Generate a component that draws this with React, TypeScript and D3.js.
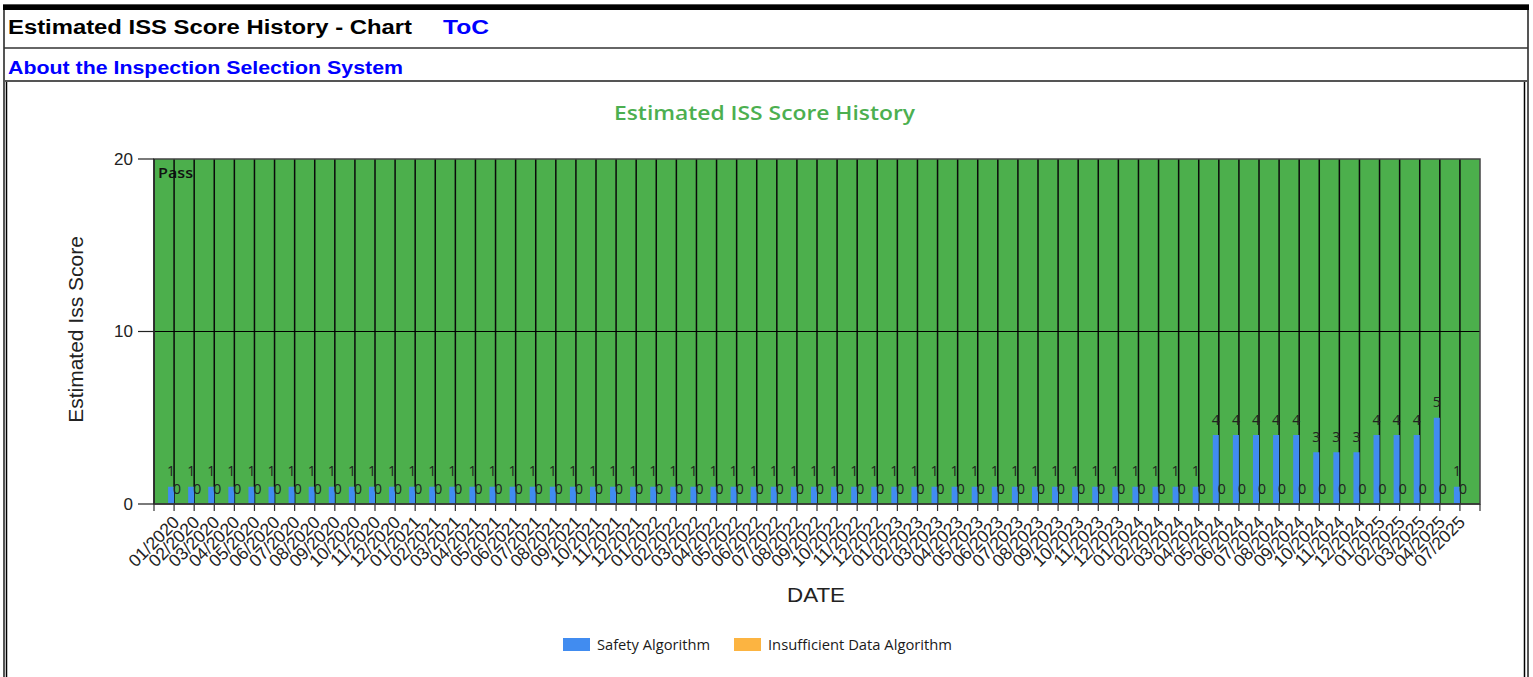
import React, { useEffect, useRef } from 'react';
import * as d3 from 'd3';

const W = 1533;
const H = 677;

// category labels (x axis)
const dates = [
  '01/2020', '02/2020', '03/2020', '04/2020', '05/2020', '06/2020', '07/2020', '08/2020', '09/2020', '10/2020', '11/2020', '12/2020',
  '01/2021', '02/2021', '03/2021', '04/2021', '05/2021', '06/2021', '07/2021', '08/2021', '09/2021', '10/2021', '11/2021', '12/2021',
  '01/2022', '02/2022', '03/2022', '04/2022', '05/2022', '06/2022', '07/2022', '08/2022', '09/2022', '10/2022', '11/2022', '12/2022',
  '01/2023', '02/2023', '03/2023', '04/2023', '05/2023', '06/2023', '07/2023', '08/2023', '09/2023', '10/2023', '11/2023', '12/2023',
  '01/2024', '02/2024', '03/2024', '04/2024', '05/2024', '06/2024', '07/2024', '08/2024', '09/2024', '10/2024', '11/2024', '12/2024',
  '01/2025', '02/2025', '03/2025', '04/2025', '07/2025',
];

// Safety Algorithm scores
const safetyScores = [
  1, 1, 1, 1, 1, 1, 1, 1, 1, 1, 1, 1,
  1, 1, 1, 1, 1, 1, 1, 1, 1, 1, 1, 1,
  1, 1, 1, 1, 1, 1, 1, 1, 1, 1, 1, 1,
  1, 1, 1, 1, 1, 1, 1, 1, 1, 1, 1, 1,
  1, 1, 1, 1, 4, 4, 4, 4, 4, 3, 3, 3,
  4, 4, 4, 5, 1,
];

// Insufficient Data Algorithm scores
const insufficientScores = [
  0, 0, 0, 0, 0, 0, 0, 0, 0, 0, 0, 0,
  0, 0, 0, 0, 0, 0, 0, 0, 0, 0, 0, 0,
  0, 0, 0, 0, 0, 0, 0, 0, 0, 0, 0, 0,
  0, 0, 0, 0, 0, 0, 0, 0, 0, 0, 0, 0,
  0, 0, 0, 0, 0, 0, 0, 0, 0, 0, 0, 0,
  0, 0, 0, 0, 0,
];

const yTicks = [0, 10, 20];
const seriesNames = ['Safety Algorithm', 'Insufficient Data Algorithm'];
const seriesColors = ['#418CF0', '#FCB441'];

const ARIAL = '"Liberation Sans", Arial, sans-serif';
const CHART_FONT = '"Open Sans", "DejaVu Sans", sans-serif';

function ScoreChart() {
  const svgRef = useRef(null);

  useEffect(() => {
    const svg = d3.select(svgRef.current);
    svg.selectAll('*').remove();

    // ---- page frame (table look) ----
    const frame = svg.append('g');
    frame.append('rect').attr('x', 4).attr('y', 5).attr('width', 1524).attr('height', H)
      .attr('fill', 'white').attr('stroke', '#555').attr('stroke-width', 2);
    frame.append('rect').attr('x', 3).attr('y', 5).attr('width', 1526).attr('height', 5).attr('fill', '#000');
    frame.append('line').attr('x1', 4).attr('x2', 1528).attr('y1', 48).attr('y2', 48)
      .attr('stroke', '#333').attr('stroke-width', 1.5);
    frame.append('line').attr('x1', 4).attr('x2', 1528).attr('y1', 81).attr('y2', 81)
      .attr('stroke', '#555').attr('stroke-width', 2);
    frame.append('line').attr('x1', 6.5).attr('x2', 6.5).attr('y1', 82).attr('y2', H)
      .attr('stroke', '#000').attr('stroke-width', 1.5);
    frame.append('line').attr('x1', 1524.5).attr('x2', 1524.5).attr('y1', 82).attr('y2', H)
      .attr('stroke', '#000').attr('stroke-width', 1.5);

    frame.append('text').attr('x', 8).attr('y', 34)
      .attr('textLength', 404).attr('lengthAdjust', 'spacingAndGlyphs')
      .style('font-family', ARIAL).style('font-weight', 'bold').style('font-size', '20px')
      .attr('fill', '#000').text('Estimated ISS Score History - Chart');
    frame.append('text').attr('x', 443).attr('y', 34)
      .attr('textLength', 46).attr('lengthAdjust', 'spacingAndGlyphs')
      .style('font-family', ARIAL).style('font-weight', 'bold').style('font-size', '20px')
      .attr('fill', '#0000ff').text('ToC');
    frame.append('text').attr('x', 8).attr('y', 74)
      .attr('textLength', 395).attr('lengthAdjust', 'spacingAndGlyphs')
      .style('font-family', ARIAL).style('font-weight', 'bold').style('font-size', '18px')
      .attr('fill', '#0000ff').text('About the Inspection Selection System');

    // ---- chart ----
    const plot = { left: 154, right: 1480, top: 159, bottom: 504 };

    const x = d3.scalePoint()
      .domain(dates)
      .range([plot.left, plot.right])
      .padding(1);
    const y = d3.scaleLinear().domain([0, 20]).range([plot.bottom, plot.top]);
    const step = x.step();
    const barW = step * 0.3;

    const g = svg.append('g');

    // title
    g.append('text').attr('x', 614).attr('y', 120)
      .attr('textLength', 301).attr('lengthAdjust', 'spacingAndGlyphs')
      .style('font-family', CHART_FONT).style('font-weight', 600).style('font-size', '20px')
      .attr('fill', '#4CAF50').text('Estimated ISS Score History');

    // "Pass" band
    g.append('rect').attr('x', plot.left).attr('y', y(20))
      .attr('width', plot.right - plot.left).attr('height', y(0) - y(20))
      .attr('fill', '#4CAF4C');
    g.append('text').attr('x', 158).attr('y', 178)
      .attr('textLength', 35).attr('lengthAdjust', 'spacingAndGlyphs')
      .style('font-family', CHART_FONT).style('font-weight', 600).style('font-size', '15px')
      .attr('fill', '#111').text('Pass');

    // gridlines
    g.selectAll('.vgrid').data(dates).enter().append('line')
      .attr('x1', d => x(d)).attr('x2', d => x(d))
      .attr('y1', plot.top).attr('y2', plot.bottom)
      .attr('stroke', '#0a0a0a').attr('stroke-width', 1.5);
    g.selectAll('.hgrid').data(yTicks.filter(t => t > 0 && t < 20)).enter().append('line')
      .attr('x1', plot.left).attr('x2', plot.right)
      .attr('y1', d => y(d)).attr('y2', d => y(d))
      .attr('stroke', '#000').attr('stroke-width', 1);

    // bars
    const series = [safetyScores, insufficientScores];
    series.forEach((vals, s) => {
      const off = s === 0 ? -barW : 0;
      g.selectAll('.bar' + s).data(dates).enter().append('rect')
        .attr('x', d => x(d) + off)
        .attr('y', (d, i) => y(vals[i]))
        .attr('width', barW)
        .attr('height', (d, i) => y(0) - y(vals[i]))
        .attr('fill', seriesColors[s]);
      g.selectAll('.lbl' + s).data(dates).enter().append('text')
        .attr('x', d => x(d) + off + barW / 2)
        .attr('y', (d, i) => y(vals[i]) - 10.5)
        .attr('text-anchor', 'middle')
        .style('font-family', CHART_FONT).style('font-size', '14px')
        .attr('fill', '#222')
        .text((d, i) => vals[i]);
    });

    // plot border
    g.append('rect').attr('x', plot.left).attr('y', plot.top)
      .attr('width', plot.right - plot.left).attr('height', plot.bottom - plot.top)
      .attr('fill', 'none').attr('stroke', '#444').attr('stroke-width', 1.5);

    // y axis
    g.append('line').attr('x1', plot.left).attr('x2', plot.left)
      .attr('y1', plot.top).attr('y2', plot.bottom).attr('stroke', '#222').attr('stroke-width', 1.5);
    g.selectAll('.ytick').data(yTicks).enter().append('line')
      .attr('x1', 138).attr('x2', plot.left)
      .attr('y1', d => y(d)).attr('y2', d => y(d))
      .attr('stroke', '#222').attr('stroke-width', 1.2);
    g.selectAll('.ylbl').data(yTicks).enter().append('text')
      .attr('x', 133).attr('y', d => y(d)).attr('dy', '0.35em')
      .attr('text-anchor', 'end')
      .style('font-family', ARIAL).style('font-size', '17px')
      .attr('fill', '#222').text(d => d);
    g.append('text')
      .attr('transform', `translate(83, ${(plot.top + plot.bottom) / 2 - 2}) rotate(-90)`)
      .attr('text-anchor', 'middle')
      .style('font-family', ARIAL).style('font-size', '21px')
      .attr('fill', '#222').text('Estimated Iss Score');

    // x axis
    g.append('line').attr('x1', plot.left).attr('x2', plot.right)
      .attr('y1', plot.bottom).attr('y2', plot.bottom).attr('stroke', '#333').attr('stroke-width', 1.5);
    const tickPos = d3.range(dates.length + 2).map(k => plot.left + k * step);
    g.selectAll('.xtick').data(tickPos).enter().append('line')
      .attr('x1', d => d).attr('x2', d => d)
      .attr('y1', plot.bottom).attr('y2', plot.bottom + 7)
      .attr('stroke', '#333').attr('stroke-width', 1.2);
    g.selectAll('.xlbl').data(dates).enter().append('text')
      .attr('transform', d => `translate(${x(d) + 2}, ${plot.bottom + 15}) rotate(-45)`)
      .attr('text-anchor', 'end')
      .attr('dy', '0.35em')
      .style('font-family', ARIAL).style('font-size', '17.5px')
      .attr('fill', '#222').text(d => d);
    g.append('text').attr('x', 787).attr('y', 602)
      .attr('textLength', 58).attr('lengthAdjust', 'spacingAndGlyphs')
      .style('font-family', ARIAL).style('font-size', '21px')
      .attr('fill', '#222').text('DATE');

    // legend
    const legendX = [563, 734];
    const legendW = [113, 184];
    seriesNames.forEach((name, s) => {
      g.append('rect').attr('x', legendX[s]).attr('y', 638).attr('width', 27).attr('height', 13)
        .attr('fill', seriesColors[s]);
      g.append('text').attr('x', legendX[s] + 34).attr('y', 650)
        .attr('textLength', legendW[s]).attr('lengthAdjust', 'spacingAndGlyphs')
        .style('font-family', CHART_FONT).style('font-size', '14px')
        .attr('fill', '#1a1a1a').text(name);
    });
  }, []);

  return <svg ref={svgRef} width={W} height={H} style={{ display: 'block' }}></svg>;
}

export default function App() {
  useEffect(() => {
    document.body.style.margin = '0';
    document.body.style.overflow = 'hidden';
  }, []);
  return (
    <div style={{ position: 'absolute', left: 0, top: 0, width: W, height: H, overflow: 'hidden' }}>
      <ScoreChart />
    </div>
  );
}
